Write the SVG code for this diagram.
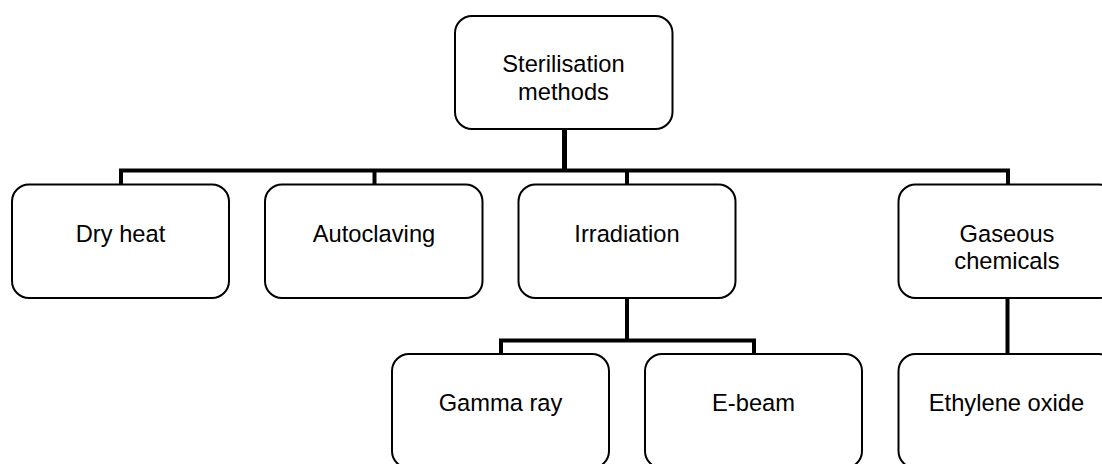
<svg xmlns="http://www.w3.org/2000/svg" width="1102" height="464" viewBox="0 0 1102 464">
<style>
.box{fill:#fff;stroke:#000;stroke-width:2}
.t{font-family:"Liberation Sans",Arial,sans-serif;font-size:23.7px;fill:#000;text-anchor:middle}
.c{fill:none;stroke:#000;stroke-width:4;stroke-linecap:butt;stroke-linejoin:miter}
</style>
<rect width="1102" height="464" fill="#fff"/>
<g id="connectors">
<path class="c" d="M564.5 129 V170.5" style="stroke-width:5"/>
<path class="c" d="M121 184 V170.5 H1008 V184" />
<path class="c" d="M374.5 184 V170.5"/>
<path class="c" d="M627 184 V170.5"/>
<path class="c" d="M627 298 V340.5"/>
<path class="c" d="M501 354 V340.5 H754 V354"/>
<path class="c" d="M1007.5 298 V353"/>
</g>
<g id="n-root"><rect class="box" x="455" y="16" width="217.5" height="113" rx="17"/><text class="t" x="563.5" y="72">Sterilisation</text><text class="t" x="563.5" y="100">methods</text></g>
<g id="n-dry"><rect class="box" x="12" y="184.5" width="217" height="113.5" rx="17"/><text class="t" x="120.5" y="242">Dry heat</text></g>
<g id="n-auto"><rect class="box" x="265" y="184.5" width="217.5" height="113.5" rx="17"/><text class="t" x="374" y="242">Autoclaving</text></g>
<g id="n-irr"><rect class="box" x="518.5" y="184.5" width="217" height="113.5" rx="17"/><text class="t" x="627" y="242">Irradiation</text></g>
<g id="n-gas"><rect class="box" x="898.5" y="184.5" width="217" height="113.5" rx="17"/><text class="t" x="1007" y="242">Gaseous</text><text class="t" x="1007" y="269">chemicals</text></g>
<g id="n-gamma"><rect class="box" x="392" y="354" width="217" height="114" rx="17"/><text class="t" x="500.5" y="411">Gamma ray</text></g>
<g id="n-ebeam"><rect class="box" x="645" y="354" width="217" height="114" rx="17"/><text class="t" x="753.5" y="411">E-beam</text></g>
<g id="n-eth"><rect class="box" x="898.5" y="354" width="217" height="114" rx="17"/><text class="t" x="1006.5" y="410.5">Ethylene oxide</text></g>
</svg>
